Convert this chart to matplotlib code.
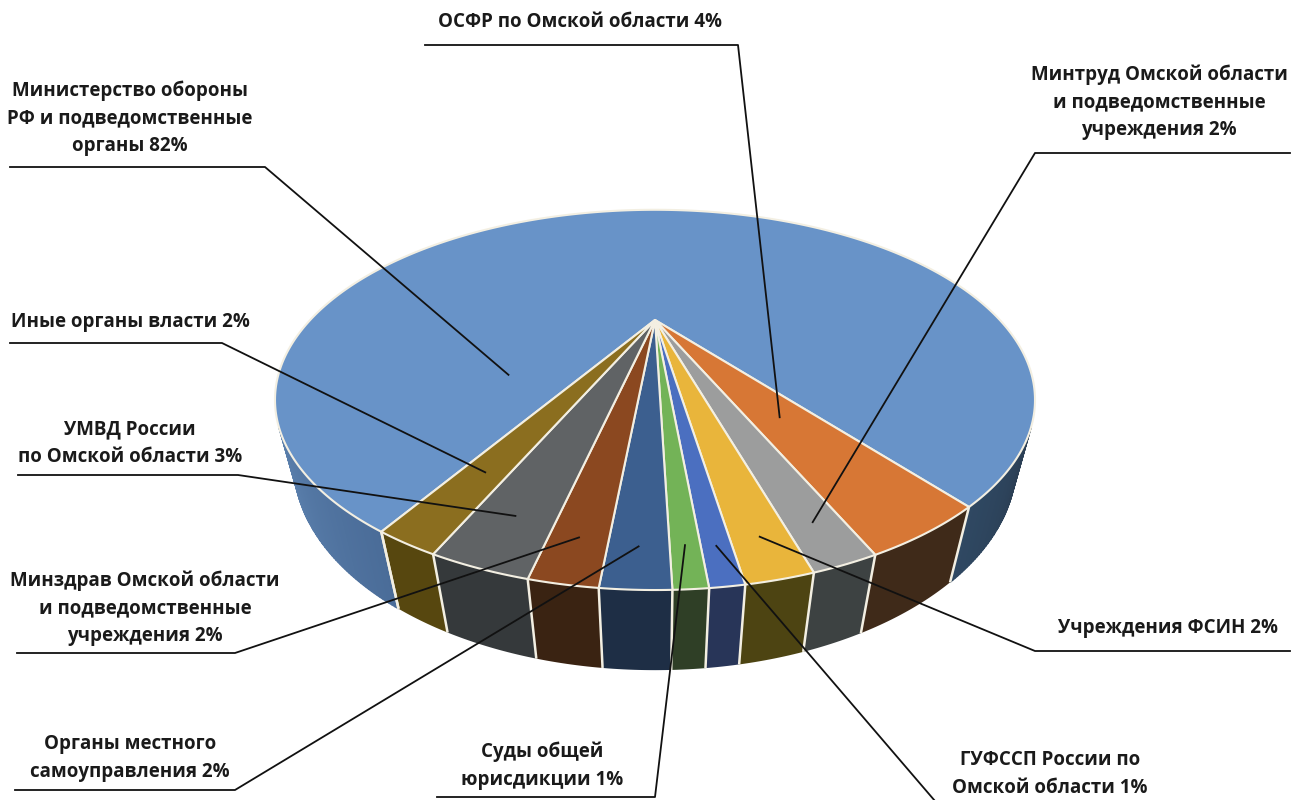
import numpy as np
import matplotlib
matplotlib.use("Agg")
import matplotlib.pyplot as plt
from matplotlib.patches import Polygon
from matplotlib.colors import to_rgb

# data
NAMES = [
    "Министерство обороны\nРФ и подведомственные\nорганы",
    "ОСФР по Омской области",
    "Минтруд Омской области\nи подведомственные\nучреждения",
    "Учреждения ФСИН",
    "ГУФССП России по\nОмской области",
    "Суды общей\nюрисдикции",
    "Органы местного\nсамоуправления",
    "Минздрав Омской области\nи подведомственные\nучреждения",
    "УМВД России\nпо Омской области",
    "Иные органы власти",
]
SHARES = [82, 4, 2, 2, 1, 1, 2, 2, 3, 2]

# styles
TOP_COLORS = ["#6893c8", "#d77735", "#9c9d9d", "#e9b53b", "#4b6fc0",
              "#73b357", "#3c5f8f", "#8b4820", "#606365", "#8b6e1f"]
SIDE_COLORS = ["#3f5f85", "#3f2a19", "#3d4242", "#4d4412", "#283558",
               "#2f3f26", "#1e2e45", "#3a2312", "#35393b", "#57470f"]
EDGE = "#f3efe2"

# label layout (pixels): text centre, leader line y, outer x, elbow x
TEXT_XY = [(130, 118), (580, 22), (1159, 102), (1168, 628), (1050, 774),
           (542, 766), (130, 758), (145, 608), (130, 443), (130, 322)]
LINE_Y = [167, 45, 153, 651, 815, 797, 790, 653, 475, 343]
LINE_X0 = [10, 425, 1290, 1290, 1200, 437, 15, 17, 18, 10]
LINE_X1 = [265, 738, 1035, 1035, 947, 655, 235, 235, 238, 222]
ANCHOR_R = [0.48, 0.57, 0.888, 0.896, 0.905, 0.898, 0.9, 0.888, 0.862, 0.774]
ANCHOR_PHI = [219.5, None, None, None, None, None, None, None, None, None]

# camera / pie geometry
CX, CY = 655, 320
FOCAL = 731.0
DIST = 2.12
ELEV = np.radians(27)
THICK = 0.2
START = 239.6


def project(px, py, pz):
    c, s = np.cos(ELEV), np.sin(ELEV)
    vy = py + DIST * c
    vz = pz - DIST * s
    depth = vy * c - vz * s
    up = vy * s + vz * c
    return CX + FOCAL * px / depth, CY - FOCAL * up / depth


def rim(phi_deg, z=0.0, r=1.0):
    p = np.radians(phi_deg)
    return project(r * np.cos(p), r * np.sin(p), z + 0 * p)


def blue_side(phi):
    phi = (phi + 180) % 360 - 180
    stops = [-148, -120, -52, -32]
    cols = [to_rgb(c) for c in ["#5b80ad", "#4a6c98", "#2f4862", "#2b3f55"]]
    return tuple(np.interp(phi, stops, [c[k] for c in cols]) for k in range(3))


fig = plt.figure(figsize=(12.96, 8), dpi=100)
ax = fig.add_axes([0, 0, 1, 1])
ax.set_xlim(0, 1296)
ax.set_ylim(800, 0)
ax.axis("off")

frac = np.array(SHARES, dtype=float) / sum(SHARES)
edges = START - 360 * np.concatenate([[0], np.cumsum(frac)])

half = np.degrees(np.arcsin(1 / (DIST * np.cos(ELEV))))
vis_lo, vis_hi = -180 + half, -half

# side walls (only the part facing the camera)
for i in range(len(SHARES)):
    lo, hi = edges[i + 1], edges[i]
    for k in (-1, 0, 1):
        a = max(lo, vis_lo + 360 * k)
        b = min(hi, vis_hi + 360 * k)
        if a >= b:
            continue
        phis = np.linspace(a, b, max(3, int((b - a) * 2)))
        if i == 0:
            # shaded wall of the big slice, drawn in thin strips
            for p0, p1 in zip(phis[:-1], phis[1:]):
                tx, ty = rim(np.array([p0, p1]))
                bx, by = rim(np.array([p1, p0]), z=-THICK)
                col = blue_side((p0 + p1) / 2)
                ax.add_patch(Polygon(np.column_stack([np.r_[tx, bx], np.r_[ty, by]]),
                                     closed=True, facecolor=col, edgecolor=col,
                                     lw=1.0, zorder=1))
        else:
            tx, ty = rim(phis)
            bx, by = rim(phis[::-1], z=-THICK)
            ax.add_patch(Polygon(np.column_stack([np.r_[tx, bx], np.r_[ty, by]]),
                                 closed=True, facecolor=SIDE_COLORS[i],
                                 edgecolor="none", zorder=1))

# light lines between wall pieces
for e in edges:
    pe = (e + 180) % 360 - 180
    if vis_lo < pe < vis_hi:
        x0, y0 = rim(pe)
        x1, y1 = rim(pe, z=-THICK)
        ax.plot([x0, x1], [y0, y1], color=EDGE, lw=1.8, zorder=2,
                solid_capstyle="butt")

# top faces
for i in range(len(SHARES)):
    lo, hi = edges[i + 1], edges[i]
    phis = np.linspace(hi, lo, max(4, int((hi - lo) * 2)))
    xs, ys = rim(phis)
    pts = np.column_stack([np.r_[CX, xs], np.r_[CY, ys]])
    ax.add_patch(Polygon(pts, closed=True, facecolor=TOP_COLORS[i],
                         edgecolor=EDGE, lw=1.5, joinstyle="round", zorder=3))

# labels with leader lines
for i, name in enumerate(NAMES):
    phi = ANCHOR_PHI[i]
    if phi is None:
        phi = (edges[i] + edges[i + 1]) / 2
    axp, ayp = rim(phi, r=ANCHOR_R[i])
    ax.plot([LINE_X0[i], LINE_X1[i], axp], [LINE_Y[i], LINE_Y[i], ayp],
            color="#111111", lw=1.3, zorder=4, clip_on=True)
    tx, ty = TEXT_XY[i]
    ax.text(tx, ty, f"{name} {SHARES[i]}%", ha="center", va="center",
            multialignment="center", fontsize=13.5, fontweight="bold",
            family="Open Sans", color="#1a1a1a", linespacing=1.5, zorder=5)

fig.savefig("out.png", dpi=100)
